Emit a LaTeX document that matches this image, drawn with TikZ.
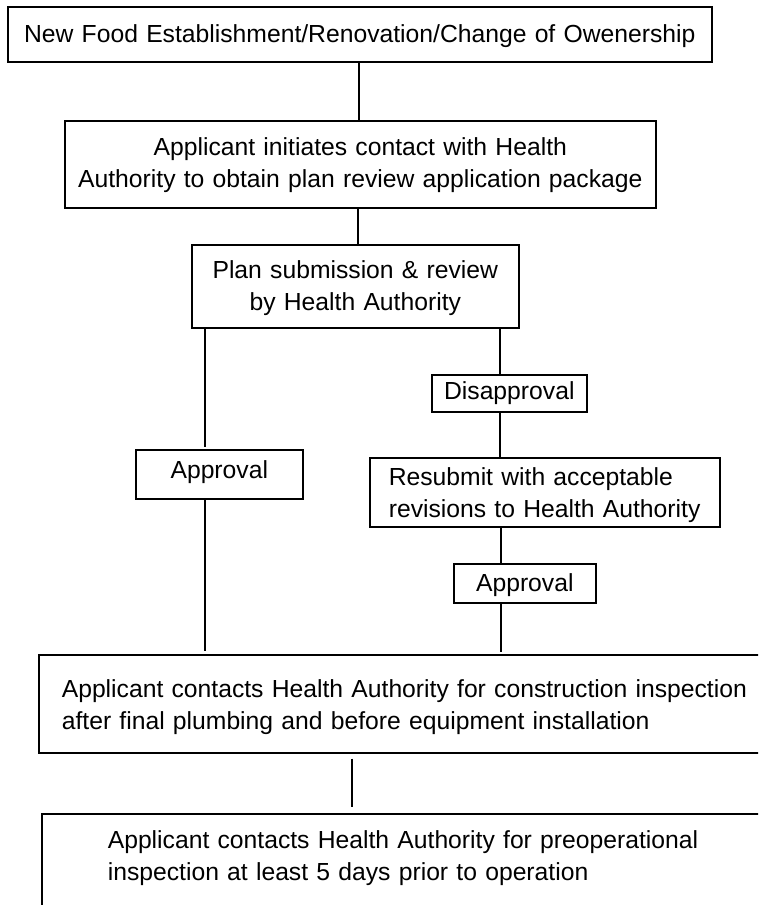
\documentclass[tikz,border=0pt]{standalone}
\usepackage{fontspec}
\setmainfont{Liberation Sans}
\begin{document}
\begin{tikzpicture}[x=1pt,y=-1pt,
  box/.style={draw=black, line width=1.6pt, inner ysep=0pt, inner xsep=0pt, anchor=north west,
    font=\fontsize{24.7}{32}\selectfont, text=black},
  cbox/.style={box, align=center},
  lbox/.style={box, align=left, execute at begin node={\hyphenpenalty=10000\leftskip=#1\relax}},
  conn/.style={draw=black, line width=1.6pt}]
\useasboundingbox (0,0) rectangle (758,905);
\clip (0,0) rectangle (758,905);
\fill[white] (0,0) rectangle (758,905);

\node[cbox, text width=704pt, text height=36pt, text depth=19pt] (b1) at (7,6)
  {New Food Establishment/Renovation/Change of Owenership};
\node[cbox, text width=591pt, text height=35pt, text depth=52pt] (b2) at (64,120)
  {Applicant initiates contact with Health\\Authority to obtain plan review application package};
\node[cbox, text width=327pt, text height=34pt, text depth=49pt] (b3) at (191,244)
  {Plan submission \& review\\by Health Authority};
\node[cbox, text width=155pt, text height=25pt, text depth=12pt] (dis) at (431,374)
  {Disapproval};
\node[cbox, text width=167pt, text height=29pt, text depth=20pt] (appl) at (135,449)
  {Approval};
\node[lbox=19pt, text width=350pt, text height=28pt, text depth=41pt] (res) at (369,457)
  {Resubmit with acceptable\\revisions to Health Authority};
\node[cbox, text width=142pt, text height=28pt, text depth=11pt] (appr) at (453,563)
  {Approval};
\node[lbox=23pt, text width=752pt, text height=43pt, text depth=55pt] (con) at (38,654)
  {Applicant contacts Health Authority for construction inspection\\after final plumbing and before equipment installation};
\node[lbox=66pt, text width=760pt, text height=35pt, text depth=82pt] (bot) at (41,813)
  {Applicant contacts Health Authority for preoperational\\inspection at least 5 days prior to operation};

\coordinate (xl) at (205,0);
\coordinate (xr) at (500,0);
\coordinate (xr2) at (501,0);
\coordinate (xm) at (352,0);
\coordinate (xt) at (359,0);
\coordinate (xt2) at (358,0);

\draw[conn] (b1.south -| xt) -- (b2.north -| xt);
\draw[conn] (b2.south -| xt2) -- (b3.north -| xt2);
\draw[conn, shorten >=2pt] (b3.south -| xl) -- (appl.north -| xl);
\draw[conn, shorten >=3pt] (appl.south -| xl) -- (con.north -| xl);
\draw[conn] (b3.south -| xr) -- (dis.north -| xr);
\draw[conn] (dis.south -| xr) -- (res.north -| xr);
\draw[conn] (res.south -| xr2) -- (appr.north -| xr2);
\draw[conn, shorten >=2pt] (appr.south -| xr2) -- (con.north -| xr2);
\draw[conn, shorten <=5pt, shorten >=6pt] (con.south -| xm) -- (bot.north -| xm);
\end{tikzpicture}
\end{document}
